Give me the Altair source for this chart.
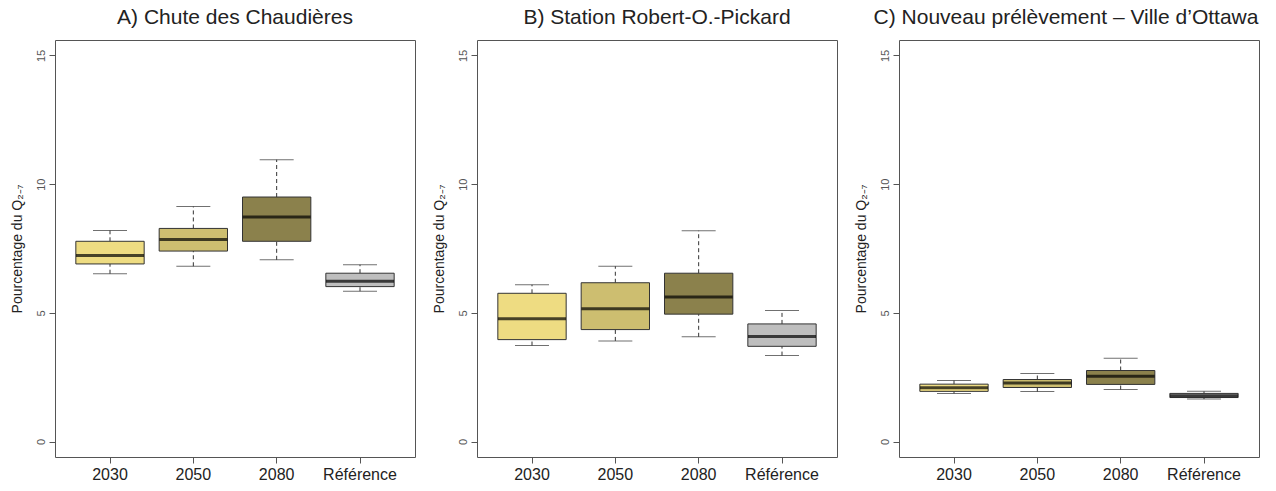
import altair as alt
import pandas as pd

categories = ["2030", "2050", "2080", "Référence"]
colors = ["#EEDC82", "#CDBE70", "#8B814C", "#BEBEBE"]

titles = [
    "A) Chute des Chaudières",
    "B) Station Robert-O.-Pickard",
    "C) Nouveau prélèvement – Ville d’Ottawa",
]

# Panel A
a_low = [6.52, 6.81, 7.06, 5.84]
a_q1 = [6.90, 7.40, 7.78, 6.02]
a_med = [7.23, 7.85, 8.72, 6.23]
a_q3 = [7.78, 8.28, 9.50, 6.54]
a_high = [8.20, 9.13, 10.95, 6.87]

# Panel B
b_low = [3.73, 3.91, 4.07, 3.34]
b_q1 = [3.96, 4.35, 4.95, 3.70]
b_med = [4.77, 5.16, 5.62, 4.08]
b_q3 = [5.76, 6.17, 6.54, 4.57]
b_high = [6.09, 6.81, 8.19, 5.09]

# Panel C
c_low = [1.87, 1.94, 2.02, 1.65]
c_q1 = [1.95, 2.10, 2.22, 1.71]
c_med = [2.09, 2.27, 2.54, 1.78]
c_q3 = [2.23, 2.41, 2.76, 1.87]
c_high = [2.37, 2.64, 3.24, 1.95]

panels = [
    (a_low, a_q1, a_med, a_q3, a_high),
    (b_low, b_q1, b_med, b_q3, b_high),
    (c_low, c_q1, c_med, c_q3, c_high),
]

FONT = "Liberation Sans"
y_scale = alt.Scale(domain=[-0.6, 15.6], nice=False, zero=False)
x_scale = alt.Scale(domain=categories, paddingInner=0, paddingOuter=0.16)
col_scale = alt.Scale(domain=categories, range=colors)


def make_panel(idx):
    lo, q1, med, q3, hi = panels[idx]
    df = pd.DataFrame({"cat": categories, "lo": lo, "q1": q1, "med": med, "q3": q3, "hi": hi})
    x_axis = alt.Axis(title=None, labelAngle=0, labelFontSize=16, labelColor="#222",
                      tickSize=6, tickColor="#555", labelPadding=3, domain=False, grid=False,
                      labelFont=FONT)
    y_axis = alt.Axis(title="Pourcentage du Q₂₋₇", values=[0, 5, 10, 15], labelAngle=-90,
                      labelAlign="center", labelBaseline="bottom", labelFontSize=11,
                      labelColor="#555", tickSize=6, tickColor="#555", labelPadding=3,
                      domain=False, grid=False, titleFontSize=14, titleFontWeight="normal",
                      titleColor="#222", titlePadding=9, minExtent=22, maxExtent=22,
                      labelFont=FONT, titleFont=FONT)
    base = alt.Chart(df)
    x_enc = alt.X("cat:N", scale=x_scale, axis=x_axis, sort=categories)
    upper = base.mark_rule(color="#333", strokeDash=[4, 3], strokeWidth=1).encode(
        x=x_enc, y=alt.Y("q3:Q", scale=y_scale, axis=y_axis), y2="hi")
    lower = base.mark_rule(color="#333", strokeDash=[4, 3], strokeWidth=1).encode(
        x=x_enc, y=alt.Y("lo:Q", scale=y_scale, axis=y_axis), y2="q1")
    cap_hi = base.mark_tick(color="#333", size=34, thickness=1).encode(
        x=x_enc, y=alt.Y("hi:Q", scale=y_scale, axis=y_axis))
    cap_lo = base.mark_tick(color="#333", size=34, thickness=1).encode(
        x=x_enc, y=alt.Y("lo:Q", scale=y_scale, axis=y_axis))
    box = base.mark_bar(stroke="#333", strokeWidth=1, width=alt.RelativeBandSize(0.82)).encode(
        x=x_enc, y=alt.Y("q1:Q", scale=y_scale, axis=y_axis), y2="q3",
        color=alt.Color("cat:N", scale=col_scale, legend=None))
    median = base.mark_tick(color="#000", size=68, thickness=3).encode(
        x=x_enc, y=alt.Y("med:Q", scale=y_scale, axis=y_axis))
    dx = -13 if idx == 2 else 0
    return alt.layer(upper, lower, cap_hi, cap_lo, box, median).properties(
        width=360, height=417,
        title=alt.TitleParams(titles[idx], fontSize=21, fontWeight="normal", font=FONT,
                              color="#222", anchor="middle", offset=12, dx=dx),
    )


chart = alt.hconcat(make_panel(0), make_panel(1), make_panel(2), spacing=15).properties(
    padding={"left": 9, "top": 6, "right": 2, "bottom": 2}
).configure_view(stroke="#555", strokeWidth=1).configure_concat(spacing=15)

chart.save("out.html", embed_options={"renderer": "svg", "actions": False})
